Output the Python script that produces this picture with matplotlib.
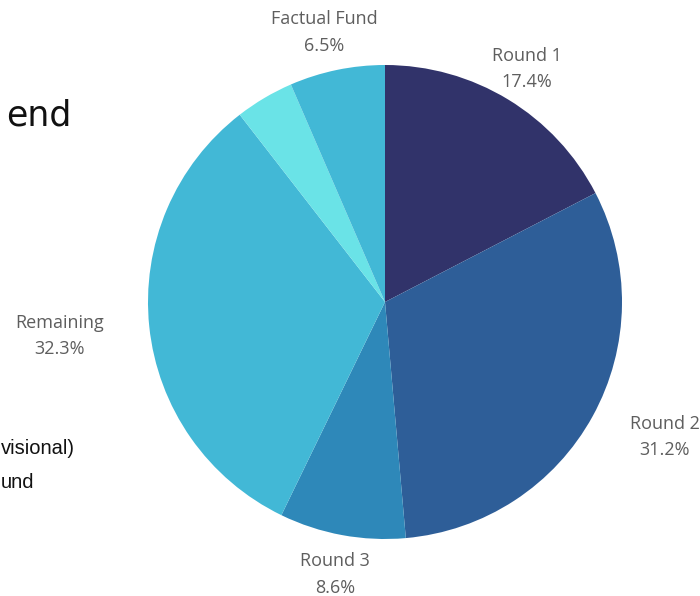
import matplotlib
matplotlib.use("Agg")
import matplotlib.pyplot as plt
import numpy as np

# Funding breakdown
categories = ["Round 1", "Round 2", "Round 3", "Remaining", "", "Factual Fund"]
shares = [17.4, 31.2, 8.6, 32.3, 4.0, 6.5]
colors = ["#31336a", "#2e5e98", "#2e88b9", "#42b8d6", "#6ae3e7", "#42b8d6"]
# label placement: radial distance (in pie radii) and angular nudge (degrees)
label_dist = [1.15, 1.31, 1.17, 1.38, 1.2, 1.165]
label_nudge = [0, 3, 0, 0, 0, 1]

# side text running in from the left margin
side_title = "end"
side_lines = ["visional)", "und"]

W, H = 700, 596
fig = plt.figure(figsize=(W / 100, H / 100), dpi=100)
ax = fig.add_axes([0, 0, 1, 1])

cx, cy, R = 385, H - 302, 237
ax.pie(shares, colors=colors, startangle=90, counterclock=False,
       center=(cx, cy), radius=R, frame=True,
       wedgeprops=dict(linewidth=0))
ax.set_xlim(0, W)
ax.set_ylim(0, H)
ax.axis("off")

label_font = ["Open Sans", "DejaVu Sans"]
cum = 0.0
for name, val, d, nudge in zip(categories, shares, label_dist, label_nudge):
    mid = cum + val / 2
    cum += val
    if not name:
        continue
    ang = np.deg2rad(90 - mid * 3.6 + nudge)
    x = cx + R * d * np.cos(ang)
    y = cy + R * d * np.sin(ang)
    ax.text(x, y, f"{name}\n{val}%", ha="center", va="center",
            fontsize=13, color="#5e5e5e", family=label_font,
            fontweight="normal", linespacing=1.6)

ax.text(6, H - 126, side_title, ha="left", va="baseline",
        fontsize=25, color="#111111", family=["DejaVu Sans"])
side_font = ["Liberation Sans", "DejaVu Sans"]
ax.text(1, H - 454, side_lines[0], ha="left", va="baseline",
        fontsize=14.5, color="#111111", family=side_font)
ax.text(1, H - 488, side_lines[1], ha="left", va="baseline",
        fontsize=14.5, color="#111111", family=side_font)

fig.savefig("out.png", dpi=100)
